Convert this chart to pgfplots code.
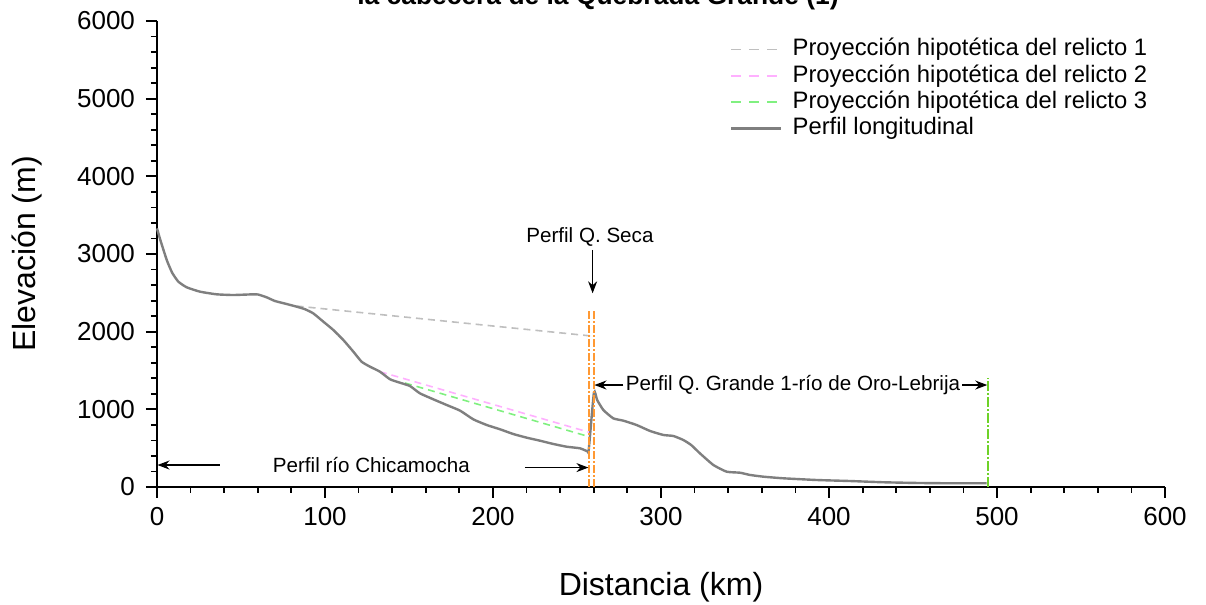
\documentclass[border=0pt]{standalone}
\usepackage{fontspec}
\setmainfont{Liberation Sans}
\usepackage{pgfplots}
\pgfplotsset{compat=1.18}
\usetikzlibrary{arrows.meta}
\definecolor{profgray}{HTML}{7F7F7F}
\definecolor{r1gray}{HTML}{BFBFBF}
\definecolor{r2pink}{HTML}{FFB0FF}
\definecolor{r3green}{HTML}{80F080}
\definecolor{vorange}{HTML}{FF9933}
\definecolor{limeline}{RGB}{110,210,40}
\pgfplotsset{dashlegend/.style={legend image code/.code={\draw[##1, dash pattern=on 5pt off 4pt] (0pt,0pt) -- (25pt,0pt);}}}
\begin{document}
\begin{tikzpicture}
\begin{axis}[
  name=ax,
  at={(0,0)}, anchor=south west,
  scale only axis, width=504pt, height=233pt,
  xmin=0, xmax=600, ymin=0, ymax=6000,
  axis x line*=bottom, axis y line*=left,
  axis line style={line width=0.9pt, black},
  xtick={0,100,...,600}, ytick={0,1000,...,6000},
  minor x tick num=4, minor y tick num=4,
  tick align=outside,
  major tick length=5.5pt, minor tick length=3pt,
  every tick/.style={black, line width=0.9pt},
  /pgf/number format/assume math mode=true,
  /pgf/number format/1000 sep={},
  ticklabel style={font=\fontsize{13}{15}\selectfont},
  yticklabel style={xshift=-2pt},
  xticklabel style={yshift=-1pt},
  xlabel={Distancia (km)}, ylabel={Elevación (m)},
  label style={font=\fontsize{16}{18}\selectfont},
  xlabel style={at={(axis description cs:0.5,-0.216)}, anchor=center},
  ylabel style={at={(axis description cs:-0.129,0.5)}, anchor=center},
  legend style={draw=none, fill=none, inner sep=0pt,
    at={(axis cs:341,5790)}, anchor=north west,
    font=\fontsize{11.9}{14}\selectfont,
    nodes={inner sep=0pt, text height=9pt, text depth=2.6pt},
    row sep=1.6pt, column sep=5pt},
  legend cell align=left,
  legend image code/.code={\draw[#1] (0pt,0pt) -- (25pt,0pt);},
  clip=false,
]
\addplot[r1gray, line width=0.8pt, dash pattern=on 3.5pt off 2.5pt, dashlegend]
  coordinates {(83.1,2330) (258.7,1944)};
\addlegendentry{Proyección hipotética del relicto 1}
\addplot[r2pink, line width=0.8pt, dash pattern=on 3.5pt off 2.5pt, dashlegend]
  coordinates {(132.7,1485) (257.2,705)};
\addlegendentry{Proyección hipotética del relicto 2}
\addplot[r3green, line width=0.8pt, dash pattern=on 3.5pt off 2.5pt, dashlegend]
  coordinates {(147.6,1339) (257.2,648)};
\addlegendentry{Proyección hipotética del relicto 3}
\addplot[profgray, line width=1.2pt, smooth, tension=0.3] coordinates {
(0,3330) (2,3180) (5.8,2923) (9,2760) (12.7,2644) (17.7,2571) (25.6,2515)
(35.5,2481) (45.4,2472) (57.3,2481) (60.3,2478) (65.3,2442) (70.2,2395)
(77.2,2356) (83.1,2322) (88,2290) (93,2236) (99,2129) (105,2021) (110.9,1893)
(116.9,1742) (121.8,1613) (126.8,1549) (132.7,1485) (138.7,1387) (144.6,1343)
(150.6,1300) (156.5,1206) (164.5,1129) (172.4,1056) (180.4,983) (188.3,871)
(196.3,798) (204.2,743) (212.1,682) (220.1,635) (228,596) (235.9,554)
(243.8,519) (251.8,498) (256.2,460)
(257.0,480) (260.1,1219) (262,1120) (265.7,991) (271.6,884) (277.6,854)
(285.5,798) (293.5,721) (301.4,670) (307.3,657) (313.3,605) (318,540)
(323.2,433) (331.2,283) (339.1,197) (347,184) (353,155) (360.9,133)
(372.8,112) (392.7,90) (412.5,77) (432.3,61) (452.2,52) (472,48) (493.8,48)};
\addlegendentry{Perfil longitudinal}
% vertical dash-dot lines
\addplot[vorange, line width=0.8pt, dash pattern=on 4pt off 1pt on 1pt off 1pt, forget plot] coordinates {(257.1,0) (257.1,2280)};
\addplot[vorange, line width=0.8pt, dash pattern=on 4pt off 1pt on 1pt off 1pt, forget plot] coordinates {(260.1,0) (260.1,2280)};
\addplot[draw=limeline, line width=1pt, dash pattern=on 5pt off 1pt on 1pt off 1pt, forget plot] coordinates {(494.4,0) (494.4,1400)};
% annotations
\node[font=\fontsize{10.3}{12}\selectfont] at (axis cs:257.7,3223) {Perfil Q. Seca};
\draw[black, line width=0.6pt, -{Stealth[length=6pt, width=4.5pt]}] (axis cs:259.3,3052) -- (axis cs:259.3,2494);
\node[font=\fontsize{10.3}{12}\selectfont, anchor=west, inner sep=1pt] (qg) at (axis cs:277.6,1313) {Perfil Q. Grande 1-río de Oro-Lebrija};
\draw[black, line width=0.6pt, -{Stealth[length=6pt, width=4.5pt]}] (axis cs:277.6,1313) -- (axis cs:260.4,1313);
\draw[black, line width=0.6pt, -{Stealth[length=6pt, width=4.5pt]}] (qg.east |- {axis cs:0,1313}) -- (axis cs:494.2,1313);
\node[font=\fontsize{10.3}{12}\selectfont] at (axis cs:127.6,283) {Perfil río Chicamocha};
\draw[black, line width=0.6pt, -{Stealth[length=6pt, width=4.5pt]}] (axis cs:37.5,283) -- (axis cs:0.3,283);
\draw[black, line width=0.6pt, -{Stealth[length=6pt, width=4.5pt]}] (axis cs:219,250) -- (axis cs:256.8,250);
\end{axis}
\node[font=\bfseries\fontsize{13.2}{15}\selectfont, anchor=base] at (220.5pt,241pt) {la cabecera de la Quebrada Grande (1)};
\pgfresetboundingbox
\path[use as bounding box] (-78.5pt,-59pt) rectangle (524.5pt,243.5pt);
\end{tikzpicture}
\end{document}
